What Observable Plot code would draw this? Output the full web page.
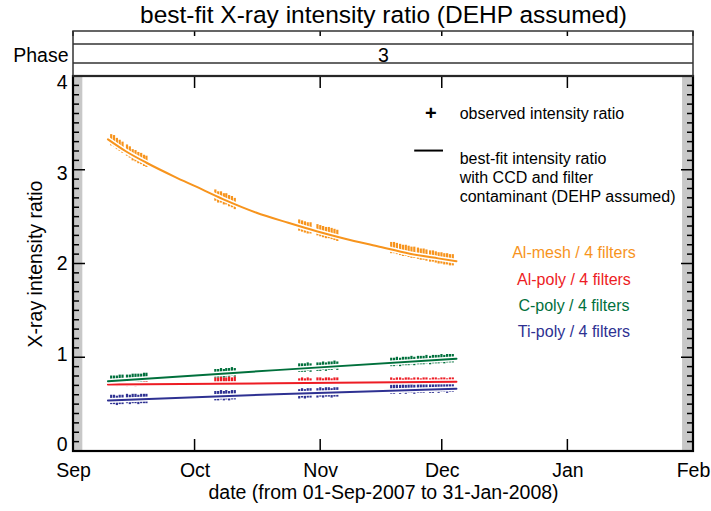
<!DOCTYPE html>
<html><head><meta charset="utf-8">
<script src="https://cdn.jsdelivr.net/npm/d3@7"></script>
<script src="https://cdn.jsdelivr.net/npm/@observablehq/plot@0.6"></script>
<style>body{margin:0;background:#fff} svg{display:block}</style>
</head><body><div id="chart"></div>
<script>
// ---- data ----
const titleText = "best-fit X-ray intensity ratio (DEHP assumed)";
const xTitle = "date (from 01-Sep-2007 to 31-Jan-2008)";
const yTitle = "X-ray intensity ratio";
const monthTicks = ["2007-09-01","2007-10-01","2007-11-01","2007-12-01","2008-01-01","2008-02-01"];
const monthLabels = ["Sep","Oct","Nov","Dec","Jan","Feb"];
const yTicks = [0,1,2,3,4];
const phaseName = "Phase";
const phases = [{label: "3", start: 0, end: 153}];          // days from 01-Sep-2007
const grayBands = [[0, 2.3], [150.3, 153]];                 // days from 01-Sep-2007
const seriesNames = ["Al-mesh / 4 filters","Al-poly / 4 filters","C-poly / 4 filters","Ti-poly / 4 filters"];
const seriesColors = ["#f7941d","#ed1c24","#00703c","#2e3192"];
const legendObs = "observed intensity ratio";
const legendFit = ["best-fit intensity ratio","with CCD and filter","contaminant (DEHP assumed)"];

// observation times (days from 01-Sep-2007)
const obsDays = [
  9.3,10.0,10.7,11.4,12.1,13.2,13.9,14.6,15.3,16.0,16.7,17.4,18.0,
  35.0,35.7,36.4,37.1,37.7,38.4,39.1,39.8,
  55.7,56.4,57.1,57.8,58.5,60.2,60.9,61.6,62.3,63.0,63.7,64.4,65.1,
  78.4,79.1,79.8,80.6,81.3,82.0,82.7,83.4,84.1,85.0,85.7,86.4,87.1,88.0,88.7,89.4,90.1,90.8,91.5,92.2,92.9,93.6
];
const obsAlMesh = [
  3.32,3.31,3.28,3.26,3.24,3.21,3.19,3.16,3.15,3.13,3.12,3.10,3.09,
  2.73,2.71,2.71,2.69,2.69,2.67,2.66,2.64,
  2.41,2.40,2.39,2.38,2.38,2.36,2.35,2.34,2.33,2.33,2.32,2.31,2.30,
  2.17,2.17,2.16,2.15,2.14,2.14,2.13,2.12,2.12,2.11,2.10,2.10,2.09,2.08,2.08,2.07,2.06,2.06,2.05,2.05,2.04,2.04
];
const obsAlPoly = [
  0.72,0.73,0.72,0.73,0.73,0.72,0.73,0.73,0.72,0.73,0.73,0.74,0.73,
  0.75,0.75,0.76,0.75,0.75,0.76,0.75,0.76,
  0.74,0.75,0.74,0.75,0.74,0.75,0.75,0.74,0.75,0.75,0.74,0.75,0.75,
  0.75,0.74,0.75,0.75,0.74,0.75,0.75,0.74,0.75,0.75,0.74,0.75,0.75,0.74,0.75,0.75,0.74,0.75,0.75,0.74,0.75,0.75
];
const obsCPoly = [
  0.76,0.76,0.76,0.77,0.77,0.77,0.77,0.78,0.78,0.78,0.78,0.79,0.79,
  0.83,0.83,0.84,0.83,0.84,0.84,0.85,0.84,
  0.89,0.89,0.89,0.90,0.89,0.90,0.90,0.91,0.90,0.91,0.91,0.92,0.91,
  0.95,0.95,0.96,0.95,0.96,0.96,0.96,0.97,0.96,0.97,0.97,0.97,0.98,0.97,0.98,0.98,0.98,0.99,0.98,0.99,0.99,0.99
];
const obsTiPoly = [
  0.55,0.55,0.54,0.55,0.55,0.56,0.55,0.56,0.56,0.55,0.56,0.56,0.56,
  0.59,0.59,0.60,0.59,0.60,0.59,0.60,0.60,
  0.61,0.62,0.61,0.62,0.62,0.62,0.63,0.62,0.63,0.63,0.62,0.63,0.63,
  0.66,0.66,0.67,0.66,0.67,0.66,0.67,0.67,0.66,0.67,0.67,0.67,0.68,0.67,0.67,0.68,0.67,0.68,0.68,0.67,0.68,0.68
];
const obsErr = [0.06, 0.035, 0.045, 0.05];

// best-fit model curves (days from 01-Sep-2007, ratio)
const fitDaysAlMesh = [8.5,13,18,25,30,37,45,53,60,67,75,83,90,94.5];
const fitAlMesh     = [3.33,3.20,3.08,2.93,2.83,2.69,2.55,2.44,2.35,2.27,2.19,2.11,2.06,2.03];
const fitDaysLinear = [8.5,50,94.5];
const fitAlPoly     = [0.715,0.728,0.745];
const fitCPoly      = [0.750,0.868,0.990];
const fitTiPoly     = [0.545,0.610,0.670];

// ---- build ----
const FONT = "'Liberation Sans', Arial, Helvetica, sans-serif";
const day0 = Date.UTC(2007, 8, 1);
const toDate = d => new Date(day0 + d * 864e5);
const xStart = new Date(monthTicks[0]), xEnd = new Date(monthTicks[monthTicks.length - 1]);
const obsValues = [obsAlMesh, obsAlPoly, obsCPoly, obsTiPoly];
const fitDays = [fitDaysAlMesh, fitDaysLinear, fitDaysLinear, fitDaysLinear];
const fitValues = [fitAlMesh, fitAlPoly, fitCPoly, fitTiPoly];
const series = seriesNames.map((name, i) => ({
  name, color: seriesColors[i],
  obs: obsDays.map((d, j) => ({date: toDate(d), lo: obsValues[i][j] - obsErr[i], hi: obsValues[i][j] + obsErr[i]})),
  fit: fitDays[i].map((d, j) => ({date: toDate(d), v: fitValues[i][j]}))
}));
const labelY = [2.12, 1.835, 1.555, 1.28];

const AX = 19.5;
const M = "middle";
const chart = Plot.plot({
  width: 711, height: 511,
  marginLeft: 73, marginRight: 18, marginTop: 76, marginBottom: 60,
  style: {fontFamily: FONT, background: "white", overflow: "visible", color: "black"},
  x: {type: "utc", domain: [xStart, xEnd], axis: null},
  y: {domain: [0, 4], axis: null},
  marks: [
    Plot.rect(grayBands, {x1: d => toDate(d[0]), x2: d => toDate(d[1]), y1: 0, y2: 4, fill: "#c8c8c8"}),
    ...series.map(s => Plot.ruleX(s.obs, {x: "date", y1: "lo", y2: "hi", stroke: s.color, strokeWidth: 2.2})),
    ...series.flatMap(s => [
      Plot.line(s.fit, {x: "date", y: "v", stroke: "white", strokeWidth: 5, curve: "monotone-x"}),
      Plot.line(s.fit, {x: "date", y: "v", stroke: s.color, strokeWidth: 2, curve: "monotone-x"})
    ]),
    // series labels
    Plot.text(series, {x: toDate(123.5), y: (d, i) => labelY[i], text: "name", fill: "color", fontSize: 16, lineAnchor: M}),
    // legend
    Plot.text(["+"], {x: toDate(88.2), y: 3.605, text: d => d, fontSize: 20, fontWeight: "bold", lineAnchor: M}),
    Plot.text([legendObs], {x: toDate(95.3), y: 3.605, text: d => d, textAnchor: "start", fontSize: 16, lineAnchor: M}),
    Plot.ruleY([3.21], {x1: toDate(84.2), x2: toDate(91.3), stroke: "black", strokeWidth: 2}),
    Plot.text(legendFit, {x: toDate(95.3), y: (d, i) => 3.125 - i * 0.207, text: d => d, textAnchor: "start", fontSize: 16, lineAnchor: M}),
    // month labels
    Plot.text(monthTicks, {x: d => new Date(d), text: (d, i) => monthLabels[i], frameAnchor: "bottom", dy: 19, fontSize: AX, lineAnchor: M, textAnchor: M}),
    // y tick labels
    ...yTicks.map(v => Plot.text([v], {y: d => d, text: d => String(d), frameAnchor: "left", textAnchor: "end", dx: -6, dy: (v - 2) * 3.2, fontSize: AX, lineAnchor: M})),
    // titles
    Plot.text([titleText], {frameAnchor: "top", dy: -61, fontSize: 24.5, lineAnchor: M, textAnchor: M}),
    Plot.text([xTitle], {frameAnchor: "bottom", dy: 41, fontSize: AX, lineAnchor: M, textAnchor: M}),
    Plot.text([yTitle], {frameAnchor: "left", dx: -38, rotate: -90, fontSize: AX, lineAnchor: M, textAnchor: M}),
    Plot.text([phaseName], {frameAnchor: "top-left", dx: -5, dy: -21, textAnchor: "end", fontSize: AX, lineAnchor: M}),
    Plot.text(phases, {x: d => toDate((d.start + d.end) / 2), text: "label", frameAnchor: "top", dy: -21, fontSize: AX, lineAnchor: M, textAnchor: M})
  ]
});

// axes ticks, frame and phase box drawn with the plot's own scales
const xs = chart.scale("x"), ys = chart.scale("y");
const X = d => xs.apply(d), Y = v => ys.apply(v);
const x0 = X(xStart), x1 = X(xEnd), yb = Y(0), yt = Y(4);
const svg = d3.select(chart);
const g = svg.append("g").attr("stroke", "black").attr("fill", "none");
const minor = d3.range(0, 40.5).map(i => i / 10);
for (const v of minor) {
  const major = Math.abs(v - Math.round(v)) < 1e-6;
  const L = major ? 12 : 6;
  g.append("line").attr("x1", x0).attr("x2", x0 + L).attr("y1", Y(v)).attr("y2", Y(v)).attr("stroke-width", 1.5);
  g.append("line").attr("x1", x1).attr("x2", x1 - L).attr("y1", Y(v)).attr("y2", Y(v)).attr("stroke-width", 1.5);
}
const pTop = yt - 45, pL1 = yt - 32, pL2 = yt - 13;
for (const m of monthTicks) {
  const px = X(new Date(m));
  g.append("line").attr("x1", px).attr("x2", px).attr("y1", yb).attr("y2", yb - 12).attr("stroke-width", 1.5);
  g.append("line").attr("x1", px).attr("x2", px).attr("y1", yt).attr("y2", yt + 12).attr("stroke-width", 1.5);
  g.append("line").attr("x1", px).attr("x2", px).attr("y1", pTop).attr("y2", pTop + 5).attr("stroke-width", 1.5);
}
// phase box
const pg = svg.append("g").attr("stroke", "#333").attr("fill", "none").attr("stroke-width", 1.5);
pg.append("rect").attr("x", x0).attr("y", pTop).attr("width", x1 - x0).attr("height", yt - pTop);
pg.append("line").attr("x1", x0).attr("x2", x1).attr("y1", pL1).attr("y2", pL1);
pg.append("line").attr("x1", x0).attr("x2", x1).attr("y1", pL2).attr("y2", pL2);
// frame
g.append("rect").attr("x", x0).attr("y", yt).attr("width", x1 - x0).attr("height", yb - yt).attr("stroke-width", 2.2);

document.getElementById("chart").appendChild(chart);
</script>
</body></html>
